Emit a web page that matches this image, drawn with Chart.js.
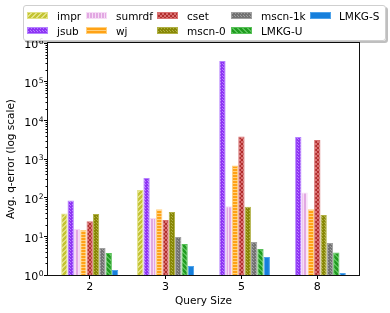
<!DOCTYPE html>
<html><head><meta charset="utf-8">
<script src="https://cdn.jsdelivr.net/npm/chart.js@4/dist/chart.umd.min.js"></script>
<style>
html,body{margin:0;padding:0;background:#fff;}
#wrap{position:relative;width:390px;height:313px;overflow:hidden;}
#c{position:absolute;left:0;top:0;}
#legend{position:absolute;left:23px;top:5px;width:363px;height:36px;box-sizing:border-box;border:1px solid #cfcfcf;border-radius:3px;background:rgba(255,255,255,0.85);box-shadow:2px 2px 0 rgba(0,0,0,0.25);}
.sw{position:absolute;width:21px;height:7px;}
.lt{position:absolute;font-family:'DejaVu Sans',sans-serif;font-size:10.5px;line-height:12px;color:#000;white-space:nowrap;}
</style></head>
<body><div id="wrap"><canvas id="c" width="390" height="313"></canvas><div id="legend"></div></div>
<script>
// ---- data ----
const categories = ['2', '3', '5', '8'];
const seriesNames = ['impr', 'jsub', 'sumrdf', 'wj', 'cset', 'mscn-0', 'mscn-1k', 'LMKG-U', 'LMKG-S'];
const impr   = [39, 157, null, null];
const jsub   = [85, 321, 340000, 3680];
const sumrdf = [15.5, 29.7, 60, 137];
const wj     = [14.5, 50, 680, 50];
const cset   = [24.4, 26.4, 3840, 3090];
const mscn0  = [37.7, 42.5, 58, 35.5];
const mscn1k = [5.0, 9.6, 7.1, 6.7];
const lmkgU  = [3.7, 6.3, 4.7, 3.8];
const lmkgS  = [1.35, 1.7, 2.9, 1.12];
const yMajorTicks = [1, 10, 100, 1000, 10000, 100000, 1000000];
const yMinorMultipliers = [2, 3, 4, 5, 6, 7, 8, 9];
const seriesValues = [impr, jsub, sumrdf, wj, cset, mscn0, mscn1k, lmkgU, lmkgS];

// ---- styles ----
const styles = [
  {base:'#c4c432', light:'#e2e286', hatch:'diag'},
  {base:'#8e34f4', light:'#b682ff', hatch:'dots'},
  {base:'#e2a8e2', light:'#f6dcf6', hatch:'vert'},
  {base:'#ffa216', light:'#ffd07e', hatch:'horiz'},
  {base:'#b22e2e', light:'#d87070', hatch:'cross'},
  {base:'#888806', light:'#b0b044', hatch:'dots'},
  {base:'#727272', light:'#a0a0a0', hatch:'dots'},
  {base:'#1f9c1f', light:'#58c058', hatch:'back'},
  {base:'#167fdc', light:'#4ea2ea', hatch:'none'}
];

function makeTile(st){
  let w=5,h=5,pts=[];
  if(st.hatch==='diag'){w=5;h=5;for(let i=0;i<5;i++){pts.push([4-i,i]);pts.push([(5-i)%5,i]);}}
  else if(st.hatch==='back'){w=5;h=5;for(let i=0;i<5;i++){pts.push([i,i]);pts.push([(i+1)%5,i]);}}
  else if(st.hatch==='vert'){w=3;h=1;pts=[[0,0]];}
  else if(st.hatch==='horiz'){w=1;h=3;pts=[[0,0]];}
  else if(st.hatch==='cross'){w=4;h=4;for(let i=0;i<4;i++){pts.push([i,i]);pts.push([3-i,i]);}}
  else if(st.hatch==='dots'){w=3;h=3;pts=[[0,0],[1,1]];}
  else {w=1;h=1;}
  const c=document.createElement('canvas');c.width=w;c.height=h;
  const g=c.getContext('2d');g.fillStyle=st.base;g.fillRect(0,0,w,h);g.fillStyle=st.light;
  pts.forEach(([x,y])=>g.fillRect(x,y,1,1));
  return c;
}
const ctx=document.getElementById('c').getContext('2d');
const patterns=styles.map(st=>ctx.createPattern(makeTile(st),'repeat'));

const datasets=seriesNames.map((name,k)=>({
  label:name,
  data:categories.map((c,i)=>({x:i,y:seriesValues[k][i]})),
  backgroundColor:patterns[k],
  borderColor:styles[k].light,
  borderWidth:1,
  categoryPercentage:0.752,
  barPercentage:1.0
}));

Chart.defaults.font.family="'DejaVu Sans', sans-serif";
Chart.defaults.color='#000';

const framePlugin={
  id:'frame',
  afterDatasetsDraw(chart){
    const {ctx:c,chartArea:a,scales:{y}}=chart;
    c.save();
    c.strokeStyle='#000';c.lineWidth=1;
    for(let e=0;e<6;e++){
      for(const m of yMinorMultipliers){
        const py=Math.round(y.getPixelForValue(m*Math.pow(10,e)))+0.5;
        c.beginPath();c.moveTo(a.left-2.5,py);c.lineTo(a.left,py);c.stroke();
      }
    }
    c.strokeStyle='#111';
    c.strokeRect(Math.round(a.left)-0.5,Math.round(a.top)-0.5,Math.round(a.right-a.left)+1,Math.round(a.bottom-a.top)+1);
    // y tick labels: base "10" with raised exponent
    c.fillStyle='#000';c.textBaseline='alphabetic';c.textAlign='left';
    const rightEdge=a.left-4.5;
    yMajorTicks.forEach(v=>{
      const py=y.getPixelForValue(v);
      const exp=String(Math.round(Math.log10(v)));
      c.font="7.6px 'DejaVu Sans'";
      const ew=c.measureText(exp).width;
      c.font="11px 'DejaVu Sans'";
      const bw=c.measureText('10').width;
      const x0=rightEdge-ew-bw-0.5;
      c.fillText('10',x0,py+5.3);
      c.font="7.6px 'DejaVu Sans'";
      c.fillText(exp,x0+bw+0.5,py+1.2);
    });
    c.restore();
  }
};

new Chart(ctx,{
  type:'bar',
  data:{datasets},
  options:{
    animation:false,responsive:false,devicePixelRatio:1,
    layout:{padding:{left:0,right:31,top:43,bottom:0}},
    plugins:{legend:{display:false},tooltip:{enabled:false}},
    scales:{
      x:{type:'linear',min:-0.55,max:3.55,offset:false,
        grid:{display:true,drawOnChartArea:false,drawTicks:true,tickLength:4,tickColor:'#000',offset:false},
        border:{display:false},
        ticks:{autoSkip:false,maxRotation:0,padding:2,color:'#000',font:{size:11},
          callback:(v)=>categories[v]!==undefined?categories[v]:''},
        afterBuildTicks:(s)=>{s.ticks=categories.map((_,i)=>({value:i}));},
        afterFit:(s)=>{s.height=38;},
        title:{display:true,text:'Query Size',color:'#000',font:{size:10.5},padding:{top:0,bottom:5}}
      },
      y:{type:'logarithmic',min:1,max:1000000,
        grid:{display:true,drawOnChartArea:false,drawTicks:true,tickLength:4,tickColor:'#000'},
        border:{display:false},
        ticks:{display:false,autoSkip:false},
        afterBuildTicks:(s)=>{s.ticks=yMajorTicks.map(v=>({value:v,major:true}));},
        afterFit:(s)=>{s.width=48;},
        title:{display:true,text:'Avg. q-error (log scale)',color:'#000',font:{size:10.5},padding:{top:5,bottom:0}}
      }
    }
  },
  plugins:[framePlugin]
});

// ---- legend (column-major, 5 columns x 2 rows) ----
const legend=document.getElementById('legend');
const colSwatchX=[27,86,157,231,309.5];
const colTextX=[57,116,187,261,339];
const rowY=[15.5,30.5];
seriesNames.forEach((name,k)=>{
  const col=Math.floor(k/2),row=k%2;
  const sw=document.createElement('canvas');sw.width=21;sw.height=7;sw.className='sw';
  sw.style.left=(colSwatchX[col]-23-1)+'px';sw.style.top=(rowY[row]-3.5-5-1)+'px';
  const g=sw.getContext('2d');g.fillStyle=patterns[k];g.fillRect(0,0,21,7);
  g.strokeStyle=styles[k].light;g.lineWidth=1;g.strokeRect(0.5,0.5,20,6);
  legend.appendChild(sw);
  const t=document.createElement('div');t.className='lt';t.textContent=name;
  t.style.left=(colTextX[col]-23-1)+'px';t.style.top=(rowY[row]-6-5-1)+'px';
  legend.appendChild(t);
});
</script>
</body></html>
